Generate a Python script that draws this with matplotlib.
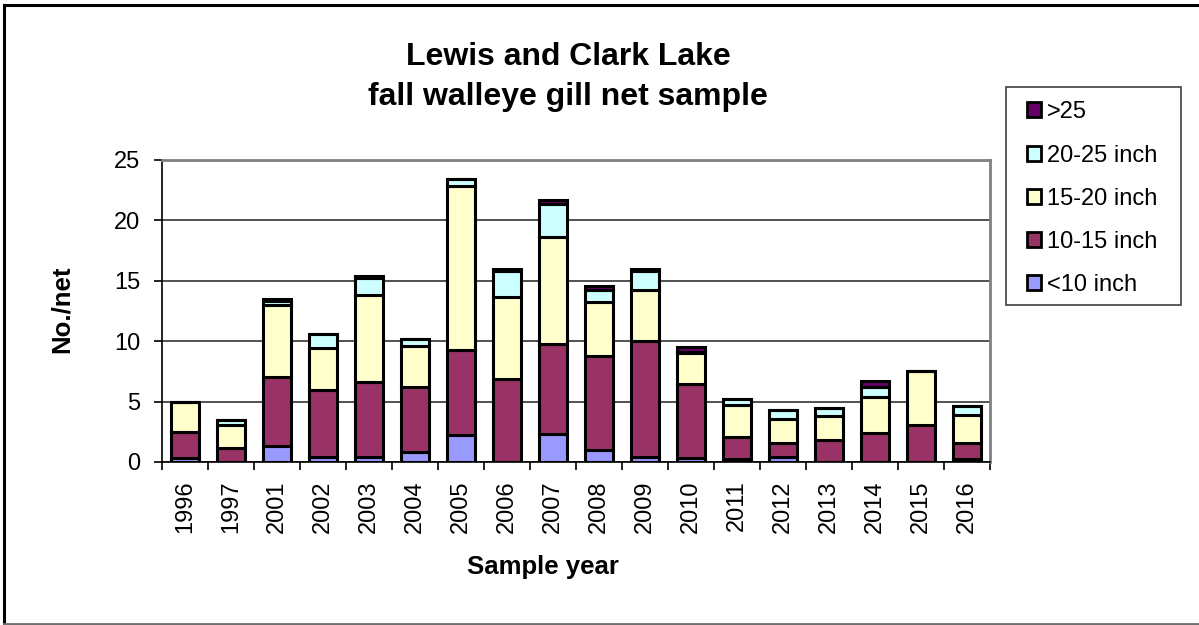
import matplotlib
matplotlib.use("Agg")
import matplotlib.pyplot as plt
from matplotlib.patches import Rectangle, Patch
import numpy as np

plt.rcParams['font.family'] = ['Liberation Sans', 'DejaVu Sans']

years = ["1996", "1997", "2001", "2002", "2003", "2004", "2005", "2006", "2007",
         "2008", "2009", "2010", "2011", "2012", "2013", "2014", "2015", "2016"]

# Catch per net by length group
lt10 = [0.3, 0.0, 1.35, 0.4, 0.4, 0.8, 2.25, 0.0, 2.35, 1.0, 0.4, 0.35, 0.25, 0.4, 0.0, 0.0, 0.0, 0.25]
in10_15 = [2.15, 1.2, 5.65, 5.6, 6.2, 5.45, 7.0, 6.85, 7.45, 7.75, 9.6, 6.1, 1.8, 1.2, 1.85, 2.4, 3.05, 1.3]
in15_20 = [2.5, 1.85, 6.0, 3.4, 7.2, 3.35, 13.6, 6.8, 8.85, 4.5, 4.2, 2.55, 2.65, 2.0, 1.95, 3.0, 4.5, 2.35]
in20_25 = [0.0, 0.45, 0.3, 1.2, 1.4, 0.6, 0.55, 2.2, 2.7, 0.95, 1.65, 0.1, 0.5, 0.7, 0.7, 0.8, 0.0, 0.75]
over25 = [0.05, 0.0, 0.2, 0.0, 0.2, 0.0, 0.0, 0.15, 0.35, 0.35, 0.15, 0.4, 0.0, 0.0, 0.0, 0.5, 0.0, 0.0]

series = [
    ("<10 inch", lt10, "#9999FF"),
    ("10-15 inch", in10_15, "#993366"),
    ("15-20 inch", in15_20, "#FFFFCC"),
    ("20-25 inch", in20_25, "#CCFFFF"),
    (">25", over25, "#660066"),
]

W, H = 1199, 625
fig = plt.figure(figsize=(W / 100, H / 100), dpi=100)
fig.patch.set_facecolor("white")

# Outer chart frame: dark left/top edges, grey bottom edge
fig.add_artist(plt.Line2D([4 / W, 4 / W], [1 - 624 / H, 1 - 5 / H],
                          transform=fig.transFigure, color="black", linewidth=2.2))
fig.add_artist(plt.Line2D([4 / W, 1.0], [1 - 5 / H, 1 - 5 / H],
                          transform=fig.transFigure, color="black", linewidth=2.2))
fig.add_artist(plt.Line2D([4 / W, 1.0], [1 - 624 / H, 1 - 624 / H],
                          transform=fig.transFigure, color="#707070", linewidth=2))

ax = fig.add_axes([162 / W, 1 - 462 / H, (990 - 162) / W, (462 - 160) / H])

x = np.arange(len(years))
bottom = np.zeros(len(years))
handles = []
for label, vals, color in series:
    v = np.array(vals)
    ax.bar(x, v, width=0.63, bottom=bottom, color=color, edgecolor="black",
           linewidth=2.2, zorder=3)
    bottom += v
    handles.append(Patch(facecolor=color, edgecolor="black", linewidth=2, label=label))

ax.set_xlim(-0.5, len(years) - 0.5)
ax.set_ylim(0, 25)
ax.set_yticks([0, 5, 10, 15, 20, 25])
ax.yaxis.grid(True, color="#333333", linewidth=1.2, zorder=0)
ax.set_axisbelow(True)

ax.set_xticks(x)
ax.set_xticklabels(years, rotation=90, fontsize=17)
ax.set_xticks(np.arange(len(years) + 1) - 0.5, minor=True)
ax.tick_params(axis="x", which="major", length=0, pad=13)
ax.tick_params(axis="x", which="minor", length=5.5, width=1.2, color="black")
ax.tick_params(axis="y", labelsize=17, length=5.5, width=1.2, pad=10)

for side in ("top", "right"):
    ax.spines[side].set_color("#808080")
    ax.spines[side].set_linewidth(2)
ax.spines["left"].set_color("black")
ax.spines["left"].set_linewidth(1.2)
ax.spines["bottom"].set_color("black")
ax.spines["bottom"].set_linewidth(1.2)

# Titles and axis labels
fig.text(568 / W, 1 - 57 / H, "Lewis and Clark Lake", ha="center", va="center",
         fontsize=23, fontweight="bold")
fig.text(568 / W, 1 - 97 / H, "fall walleye gill net sample", ha="center", va="center",
         fontsize=23, fontweight="bold")
fig.text(62 / W, 1 - 309 / H, "No./net", ha="center", va="center", rotation=90,
         fontsize=18.5, fontweight="bold")
fig.text(543 / W, 1 - 567 / H, "Sample year", ha="center", va="center",
         fontsize=18.5, fontweight="bold")

# Legend entries, with a separate frame box around them
fig.legend(handles=handles[::-1], loc="upper left",
           bbox_to_anchor=(1006 / W, 1 - 80 / H), bbox_transform=fig.transFigure,
           fontsize=17, frameon=False,
           handlelength=0.6, handleheight=0.6,
           handletextpad=0.25, labelspacing=0.9, borderpad=0.9,
           borderaxespad=0)
fig.patches.append(Rectangle((1006 / W, 1 - 305 / H), (1181 - 1006) / W, (305 - 87) / H,
                             transform=fig.transFigure, fill=False,
                             edgecolor="#404040", linewidth=1.2, zorder=1))

fig.savefig("out.png", dpi=100, facecolor="white")
